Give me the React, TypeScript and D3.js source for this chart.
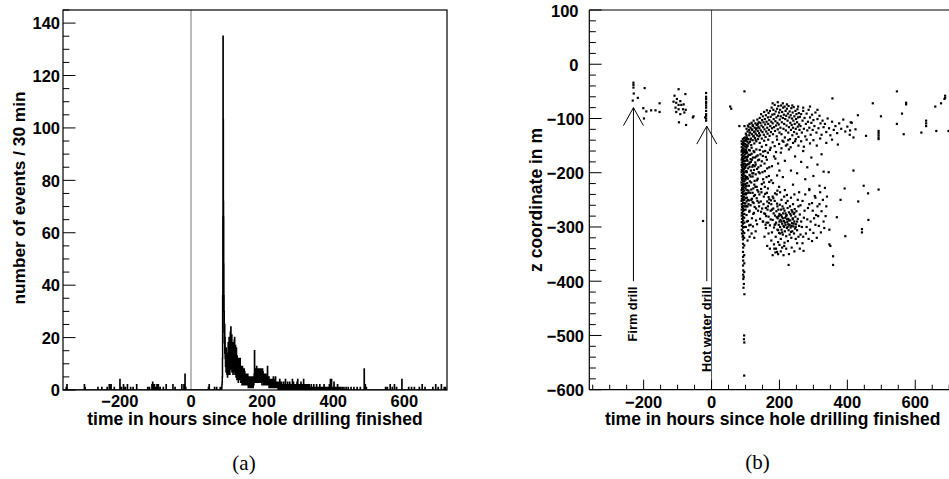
import React from "react";
import * as d3 from "d3";

// ---------- data ----------
const X_DOMAIN: [number, number] = [-360, 720];
const HIST_Y_MAX = 145;
const Z_DOMAIN: [number, number] = [-600, 100];
const BIN_WIDTH = 0.5;

const xTickValues = [-200, 0, 200, 400, 600];
const histYTicks = [0, 20, 40, 60, 80, 100, 120, 140];
const zTicks = [-600, -500, -400, -300, -200, -100, 0, 100];

// sparse bins before the main burst (hours, events per 30 min)
const preTimes = [-351, -349, -300, -298, -262, -251, -236, -230, -227, -225,
  -216, -200, -196, -190, -185, -179, -170, -163, -153, -122,
  -117, -110, -108, -105, -103, -99, -96, -92, -87, -78,
  -70, -51, -45, -26, -20, -17, -15, 49, 51, 66,
  72, 82, 84];
const preCounts = [1, 2, 2, 1, 1, 1, 1, 2, 1, 2,
  1, 4, 1, 2, 1, 2, 1, 1, 2, 1,
  1, 2, 3, 2, 2, 1, 2, 2, 1, 1,
  2, 2, 1, 2, 2, 6, 1, 1, 2, 1,
  1, 1, 1];

// dense burst: consecutive 30-min bins starting at t = 86 h
const denseStart = 86;
const denseCounts = [
  0, 1, 2, 3, 5, 12, 36, 66, 135, 103, 72, 66, 48, 36, 30, 22,
  18, 25, 14, 20, 12, 16, 9, 14, 11, 7, 16, 10, 8, 12, 6, 10,
  14, 5, 9, 12, 7, 18, 10, 6, 13, 9, 20, 11, 8, 15, 6, 19,
  12, 22, 9, 14, 24, 10, 17, 8, 13, 21, 7, 11, 16, 9, 12, 18,
  6, 14, 10, 8, 15, 7, 12, 19, 9, 20, 11, 6, 14, 8, 17, 10,
  12, 5, 9, 16, 7, 11, 4, 13, 9, 6, 12, 5, 10, 8, 3, 11,
  6, 9, 12, 4, 8, 5, 10, 7, 12, 4, 9, 6, 3, 8, 5, 9,
  7, 4, 8, 2, 5, 9, 3, 6, 8, 2, 5, 7, 4, 6, 3, 8,
  2, 5, 7, 3, 6, 3, 4, 6, 2, 5, 3, 4, 6, 2, 4, 3,
  5, 3, 2, 6, 3, 4, 1, 5, 2, 4, 3, 1, 4, 2, 5, 3,
  1, 3, 4, 2, 3, 5, 2, 1, 4, 2, 3, 5, 2, 3, 1, 4,
  3, 1, 4, 2, 5, 2, 3, 6, 4, 15, 5, 3, 7, 4, 8, 5,
  6, 8, 3, 7, 5, 9, 4, 6, 8, 3, 7, 5, 4, 8, 6, 3,
  7, 5, 8, 4, 3, 6, 5, 8, 6, 4, 7, 3, 5, 8, 4, 6,
  3, 7, 5, 2, 6, 4, 8, 5, 3, 7, 4, 6, 5, 2, 6, 4,
  3, 5, 2, 6, 4, 3, 5, 2, 6, 3, 4, 2, 3, 5, 2, 4,
  2, 4, 9, 3, 5, 2, 3, 4, 2, 3, 5, 1, 3, 2, 4, 3,
  1, 4, 2, 3, 3, 1, 2, 4, 2, 3, 1, 2, 4, 2, 3, 1,
  2, 3, 1, 5, 3, 2, 4, 1, 2, 1, 3, 2, 1, 3, 2, 5,
  2, 1, 3, 2, 1, 2, 3, 1, 2, 3, 1, 2, 1, 2, 0, 3,
  2, 1, 3, 1, 1, 2, 1, 4
];

// tail of the distribution
const tailTimes = [251, 252.5, 254, 255.5, 257, 258.5, 260, 261.5, 263, 264.5,
  265.5, 267, 268.5, 270, 271.5, 273, 274.5, 276, 277.5, 279,
  280.5, 282, 283.5, 285, 286.5, 288, 289.5, 291, 293, 294.5,
  296, 298, 300, 301.5, 303, 305, 307, 309, 311, 313,
  315, 316.5, 318, 320, 322, 324, 326, 328, 330, 332,
  334, 336, 338, 340, 343, 345, 348, 351, 353, 356,
  359, 362, 365, 368, 371, 374, 377, 380, 383, 386,
  389, 392, 395, 398, 402, 405, 408, 412, 416, 420,
  425, 430, 436, 442, 450, 458, 467, 476, 487, 490,
  493, 547, 552, 560, 566, 572, 578, 593, 612, 620,
  628, 642, 650, 658, 680, 688, 695, 704, 712, 716];
const tailCounts = [2, 1, 3, 1, 2, 1, 3, 1, 2, 1,
  4, 1, 2, 1, 3, 1, 2, 1, 3, 1,
  2, 1, 2, 4, 1, 3, 1, 2, 1, 2,
  1, 3, 4, 2, 1, 2, 1, 3, 1, 2,
  1, 4, 1, 2, 1, 2, 1, 2, 1, 2,
  1, 1, 2, 1, 1, 2, 1, 1, 2, 1,
  1, 2, 1, 1, 1, 2, 1, 1, 1, 1,
  2, 4, 4, 1, 3, 1, 1, 2, 1, 1,
  1, 1, 1, 1, 1, 1, 1, 1, 8, 2,
  1, 1, 1, 2, 1, 2, 1, 4, 1, 1,
  1, 1, 2, 1, 1, 2, 1, 2, 1, 1];

// scatter: [time in h, z in m]
const earlyPoints: [number, number][] = [
  [-230, -34], [-230, -38], [-230, -43], [-229, -54], [-217, -62], [-232, -67], [-197, -44],
  [-201, -81], [-192, -87], [-199, -100], [-178, -85], [-165, -85], [-153, -72], [-153, -88],
  [-97, -46], [-109, -58], [-102, -64], [-92, -68], [-104, -71], [-97, -75], [-89, -75],
  [-82, -74], [-77, -55], [-112, -69], [-106, -80], [-97, -83], [-84, -83], [-76, -84],
  [-104, -88], [-92, -92], [-80, -89], [-96, -107], [-75, -112], [-55, -98],
  [-16, -53], [-16, -60], [-16, -64], [-16, -69], [-16, -72], [-16, -76], [-16, -80],
  [-16, -86], [-16, -92], [-16, -95], [-16, -100], [-16, -104], [-19, -98], [-53, -96], [-25, -289],
  [55, -78], [58, -82], [82, -114], [97, -114], [97, -50]
];

const bandPoints: [number, number][] = [
  [88.6, -142], [89.3, -147], [88.9, -153], [89.7, -158], [88.4, -161], [89.1, -167], [89.8, -172], [88.7, -176],
  [89.4, -181], [88.5, -186], [89.9, -190], [89.0, -195], [88.6, -199], [89.5, -204], [88.8, -209], [89.6, -213],
  [88.3, -218], [89.2, -223], [89.9, -228], [88.7, -232], [89.4, -237], [88.9, -243], [89.6, -248], [88.5, -252],
  [89.2, -258], [89.8, -263], [88.8, -268], [89.4, -274], [88.9, -279], [89.7, -285], [89.1, -291], [89.5, -298],
  [89.0, -305], [89.6, -312],
  [92.1, -138], [92.8, -144], [92.4, -149], [93.1, -155], [92.6, -160], [92.2, -164], [93.0, -170], [92.5, -175],
  [92.9, -179], [92.3, -184], [93.2, -188], [92.7, -193], [92.1, -197], [92.8, -202], [93.1, -207], [92.4, -211],
  [92.9, -216], [92.2, -221], [93.0, -225], [92.6, -230], [92.3, -235], [92.9, -240], [93.2, -246], [92.5, -250],
  [92.7, -255], [92.1, -261], [93.0, -266], [92.6, -271], [92.3, -277], [92.8, -282], [93.1, -288], [92.5, -294],
  [92.9, -301], [92.4, -308], [93.0, -316], [92.6, -323], [92.8, -331], [93.2, -338], [92.7, -346], [92.9, -355],
  [93.3, -362], [92.8, -371], [93.4, -380], [93.0, -388], [93.5, -396],
  [95.7, -136], [96.3, -141], [95.9, -146], [96.6, -151], [96.1, -157], [95.6, -162], [96.4, -168], [96.8, -173],
  [95.8, -178], [96.2, -183], [96.7, -189], [96.0, -194], [95.6, -200], [96.5, -205], [96.1, -211], [96.9, -216],
  [95.8, -222], [96.3, -227], [96.7, -233], [96.0, -239], [95.7, -244], [96.4, -250], [96.8, -256], [96.1, -262],
  [95.9, -269], [96.5, -276], [96.2, -283], [96.6, -292], [96.0, -300], [96.4, -311], [96.1, -320], [96.5, -334],
  [96.2, -352], [96.6, -367], [96.3, -383],
  [99.3, -135], [99.8, -140], [99.5, -147], [100.1, -152], [99.4, -159], [99.9, -165], [99.6, -171], [100.2, -178],
  [99.7, -184], [99.3, -191], [100.0, -198], [99.5, -206], [99.8, -213], [99.4, -221], [100.1, -229], [99.6, -238],
  [99.9, -247], [99.5, -257], [100.2, -268],
  [103.0, -138], [103.4, -149], [102.8, -161], [103.6, -172], [103.1, -186], [102.7, -197], [103.5, -209], [103.2, -224],
  [102.9, -238], [103.3, -253],
  [96.8, -424], [96.0, -500], [95.4, -507], [96.6, -513], [96.2, -574], [91.5, -318], [94.8, -392], [95.2, -405], [94.1, -412]
];

const arcPoints: [number, number][] = [
  [101, -128], [102, -141], [103, -119], [104, -135], [105, -150], [106, -124], [107, -113], [108, -138], [109, -146], [110, -121],
  [111, -131], [112, -110], [113, -143], [114, -126], [115, -117], [116, -137], [117, -149], [118, -108], [119, -129], [120, -121],
  [121, -140], [122, -114], [123, -133], [124, -104], [125, -125], [126, -146], [127, -117], [128, -136], [129, -109], [130, -128],
  [131, -120], [132, -142], [133, -112], [134, -131], [135, -102], [136, -123], [137, -138], [138, -115], [139, -107], [140, -127],
  [103, -131], [106, -143], [109, -115], [112, -126], [115, -139], [118, -120], [121, -112], [124, -132], [127, -124], [130, -140],
  [133, -118], [136, -110], [139, -133],
  [141, -118], [142, -99], [143, -131], [144, -108], [145, -122], [146, -92], [147, -113], [148, -137], [149, -103], [150, -125],
  [151, -96], [152, -116], [153, -107], [154, -130], [155, -88], [156, -120], [157, -101], [158, -111], [159, -134], [160, -94],
  [161, -124], [162, -106], [163, -85], [164, -117], [165, -128], [166, -98], [167, -110], [168, -90], [169, -121], [170, -103],
  [171, -132], [172, -86], [173, -114], [174, -97], [175, -125], [176, -106], [177, -80], [178, -118], [179, -93], [180, -109],
  [181, -129], [182, -84], [183, -101], [184, -116], [185, -92], [186, -75], [187, -123], [188, -105], [189, -87], [190, -113],
  [191, -98], [192, -133], [193, -82], [194, -108], [195, -120], [196, -95], [197, -77], [198, -111], [199, -89], [200, -126],
  [201, -102], [202, -84], [203, -117], [204, -96], [205, -76], [206, -129], [207, -107], [208, -88], [209, -141], [210, -99],
  [211, -80], [212, -119], [213, -93], [214, -110], [215, -78], [216, -135], [217, -101], [218, -86], [219, -122], [220, -95],
  [221, -113], [222, -82], [223, -148], [224, -104], [225, -91], [226, -126], [227, -77], [228, -116], [229, -98], [230, -87],
  [231, -138], [232, -108], [233, -94], [234, -121], [235, -81], [236, -112], [237, -100], [238, -131], [239, -89], [240, -117],
  [241, -104], [242, -79], [243, -125], [244, -96], [245, -110], [246, -142], [247, -86], [248, -119], [249, -101], [250, -92],
  [251, -128], [252, -107], [253, -83], [254, -115], [255, -98], [256, -134], [257, -90], [258, -111], [259, -121], [260, -97],
  [262, -114], [264, -92], [266, -126], [268, -104], [270, -86], [272, -119], [274, -99], [276, -133], [278, -110], [280, -91],
  [282, -122], [284, -106], [286, -84], [288, -117], [290, -98], [292, -130], [294, -108], [296, -93], [298, -121], [300, -103],
  [303, -114], [306, -89], [309, -126], [312, -101], [315, -118], [318, -95], [321, -109], [324, -130], [327, -104], [330, -116],
  [334, -110], [338, -125], [342, -100], [346, -118], [350, -131], [355, -106], [360, -121], [365, -114], [370, -127], [376, -109],
  [382, -119], [388, -102], [394, -124], [400, -115], [407, -130], [413, -108], [418, -135], [424, -120],
  [356, -63], [410, -107], [408, -122],
  [142, -145], [148, -152], [155, -141], [161, -149], [167, -139], [174, -154], [180, -144], [186, -151], [193, -139], [199, -147],
  [206, -155], [212, -143], [219, -150], [226, -140], [233, -153], [240, -145], [248, -138], [256, -150], [264, -142], [272, -152],
  [280, -139], [290, -146], [300, -140], [310, -150], [320, -137], [338, -145], [355, -139], [372, -148],
  [180, -72], [195, -70], [210, -72], [222, -74], [238, -76], [255, -78], [270, -80], [290, -78], [312, -84]
];

const swathPoints: [number, number][] = [
  [101, -158], [102, -171], [103, -186], [104, -199], [105, -163], [106, -178], [107, -211], [108, -192], [109, -167], [110, -224],
  [111, -183], [112, -204], [113, -159], [114, -237], [115, -175], [116, -196], [117, -218], [118, -165], [119, -248], [120, -189],
  [121, -207], [122, -172], [123, -229], [124, -256], [125, -195], [126, -162], [127, -215], [128, -241], [129, -181], [130, -203],
  [131, -266], [132, -170], [133, -226], [134, -193], [135, -252], [136, -211], [137, -177], [138, -235], [139, -199], [140, -262],
  [102, -225], [104, -246], [106, -262], [108, -237], [110, -251], [112, -270], [105, -232], [103, -278], [107, -289], [101, -300],
  [111, -297], [100, -262], [100, -188], [101, -210], [103, -154], [105, -208], [107, -170], [109, -258], [113, -181], [115, -207],
  [117, -250], [119, -176], [121, -237], [123, -201], [125, -274], [127, -188],
  [142, -158], [145, -187], [148, -221], [151, -169], [154, -244], [157, -197], [160, -265], [163, -176], [166, -229], [169, -206],
  [172, -158], [175, -251], [178, -188], [181, -219], [184, -170], [187, -238], [190, -162], [193, -205], [196, -183], [199, -226],
  [146, -272], [152, -212], [158, -160], [164, -253], [170, -190], [176, -214], [182, -247], [188, -174], [194, -233], [200, -196],
  [204, -163], [210, -208], [216, -178], [222, -241], [228, -157], [234, -196], [240, -222], [246, -170], [252, -201], [258, -236],
  [264, -180], [270, -160], [276, -212], [282, -190], [288, -230], [294, -172], [300, -206], [306, -246], [312, -185], [318, -224],
  [324, -166], [330, -198],
  [102, -163], [104, -176], [106, -151], [108, -184], [110, -158], [112, -189], [114, -167], [116, -180], [118, -154], [120, -201],
  [122, -186], [124, -160], [126, -222], [128, -172], [130, -185], [132, -157], [134, -214], [136, -168], [138, -190], [140, -176],
  [142, -201], [144, -166], [146, -230], [148, -179], [150, -199], [152, -161], [154, -218], [156, -183], [158, -239], [160, -171],
  [162, -208], [164, -192], [166, -163], [168, -245], [170, -217],
  [101, -240], [103, -262], [105, -219], [107, -250], [109, -233], [111, -272], [113, -216], [115, -260], [117, -231], [119, -284],
  [121, -254], [123, -276], [125, -243], [127, -263], [129, -226], [131, -288], [133, -247], [135, -232], [137, -270], [139, -255],
  [141, -240], [143, -285], [145, -253], [147, -236], [149, -266], [151, -290], [153, -258], [155, -275], [157, -226], [159, -296],
  [161, -280], [163, -237], [165, -268], [167, -292], [169, -256],
  [104, -290], [108, -306], [112, -318], [106, -325], [115, -296], [118, -312], [122, -299], [126, -320], [130, -308], [134, -295]
];

const lowerCloudPoints: [number, number][] = [
  [166, -262], [168, -281], [170, -249], [172, -297], [174, -270], [176, -258], [178, -310], [180, -287], [182, -266], [184, -301],
  [186, -252], [187, -279], [189, -318], [190, -292], [191, -271], [193, -257], [194, -305], [195, -284], [196, -328], [197, -268],
  [198, -296], [199, -311], [200, -276], [201, -259], [202, -300], [203, -287], [204, -322], [205, -268], [206, -305], [207, -281],
  [208, -294], [209, -262], [210, -314], [211, -275], [212, -298], [213, -289], [214, -335], [215, -270], [216, -308], [217, -283],
  [218, -296], [219, -256], [220, -317], [221, -278], [222, -302], [223, -291], [224, -265], [225, -326], [226, -285], [227, -306],
  [228, -273], [229, -297], [230, -314], [231, -262], [232, -288], [233, -301], [234, -279], [235, -320], [236, -269], [237, -293],
  [238, -308], [239, -284], [240, -258], [241, -299], [242, -276], [243, -312], [244, -290], [245, -267], [246, -303], [247, -281],
  [248, -322], [249, -295], [250, -271], [252, -306], [254, -285], [256, -262], [258, -298], [260, -277], [262, -314], [264, -290],
  [183, -275], [188, -295], [192, -282], [196, -306], [200, -290], [204, -278], [208, -310], [212, -266], [216, -292], [220, -280],
  [224, -300], [228, -288], [232, -276], [236, -298], [240, -286], [244, -274], [248, -300], [252, -290], [206, -290], [214, -300],
  [222, -286], [230, -296], [238, -272], [218, -275], [226, -295], [234, -309], [210, -284], [198, -280], [242, -294], [202, -312],
  [268, -252], [272, -283], [276, -240], [280, -300], [284, -265], [288, -232], [292, -290], [296, -256], [300, -311], [304, -243],
  [308, -278], [312, -262], [316, -298], [320, -236], [324, -271], [328, -250], [332, -302], [336, -280], [340, -244], [270, -318],
  [286, -322], [302, -284], [318, -258], [334, -228],
  [188, -347], [185, -340], [193, -346], [200, -333], [208, -338], [215, -329], [227, -370], [271, -344],
  [152, -290], [156, -318], [160, -302], [164, -335], [168, -312], [172, -340], [176, -325], [180, -352], [184, -332], [190, -340],
  [196, -350], [204, -345], [212, -352], [220, -340], [228, -350], [236, -338], [244, -345], [252, -330], [260, -340], [268, -330],
  [158, -276], [162, -292], [174, -286], [178, -268], [186, -296], [194, -262], [206, -250], [214, -244], [224, -252], [234, -246],
  [244, -240], [254, -250], [262, -260], [274, -270], [282, -286], [290, -305], [298, -270], [306, -296], [314, -280], [322, -310],
  [330, -290], [338, -262], [256, -318], [266, -300], [278, -312], [288, -258], [296, -326], [310, -320], [180, -244], [192, -240],
  [202, -236], [216, -232]
];

const farPoints: [number, number][] = [
  [475, -72], [546, -50], [573, -71], [573, -74], [561, -91], [546, -110], [566, -129], [499, -96],
  [492, -123], [492, -127], [492, -131], [492, -135], [492, -138], [455, -132], [431, -94],
  [632, -104], [632, -109], [632, -114], [618, -126], [662, -123], [659, -78], [676, -72],
  [688, -58], [688, -62], [686, -64], [698, -123], [710, -60], [716, -55],
  [418, -196], [392, -229], [448, -224], [461, -238], [492, -231], [432, -253], [380, -250],
  [462, -287], [443, -304], [443, -310], [394, -317], [369, -282], [350, -335], [358, -354],
  [358, -370], [345, -199], [347, -305], [347, -332]
];

const drillArrows = [
  { label: "Firm drill", t: -230, zTip: -80, zEnd: -400 },
  { label: "Hot water drill", t: -14, zTip: -114, zEnd: -400 }
];

// ---------- component ----------
const SANS = "'Liberation Sans', Arial, Helvetica, sans-serif";
const SERIF = "'Liberation Serif', 'Times New Roman', serif";

export default function App() {
  const W = 949, H = 479;
  const LP = { left: 63, right: 447, top: 10, bottom: 390 };
  const RP = { left: 589.3, right: 956, top: 10, bottom: 389.7 };

  const xL = d3.scaleLinear().domain(X_DOMAIN).range([LP.left, LP.right]);
  const yL = d3.scaleLinear().domain([0, HIST_Y_MAX]).range([LP.bottom, LP.top]);
  const xR = d3.scaleLinear().domain(X_DOMAIN).range([RP.left, RP.right]);
  const yR = d3.scaleLinear().domain(Z_DOMAIN).range([RP.bottom, RP.top]);

  // build bins
  const nBins = Math.round((X_DOMAIN[1] - X_DOMAIN[0]) / BIN_WIDTH);
  const counts = new Array(nBins).fill(0);
  const idx = (t: number) => Math.round((t - X_DOMAIN[0]) / BIN_WIDTH);
  preTimes.forEach((t, i) => { counts[idx(t)] += preCounts[i]; });
  denseCounts.forEach((c, i) => { counts[idx(denseStart + i * BIN_WIDTH)] += c; });
  tailTimes.forEach((t, i) => { counts[idx(t)] += tailCounts[i]; });

  const histPts: [number, number][] = counts.map((c, i) => [X_DOMAIN[0] + i * BIN_WIDTH, c]);
  histPts.push([X_DOMAIN[1], 0]);
  const histPath = d3.line<[number, number]>()
    .x(d => xL(d[0]))
    .y(d => yL(d[1]))
    .curve(d3.curveStepAfter)(histPts) || "";

  const allPoints = [...earlyPoints, ...bandPoints, ...arcPoints, ...swathPoints, ...lowerCloudPoints, ...farPoints];

  const minorL = d3.range(0, HIST_Y_MAX + 0.01, 5);
  const minorRz = d3.range(-600, 100.01, 20);
  const minorRx = d3.range(-350, 720, 50);

  const fmt = (v: number) => (v < 0 ? "\u2212" + Math.abs(v) : String(v));

  return (
    <svg width={W} height={H} style={{ position: "absolute", left: 0, top: 0, background: "#fff" }}>
      <defs>
        <clipPath id="clipL"><rect x={LP.left} y={LP.top} width={LP.right - LP.left} height={LP.bottom - LP.top} /></clipPath>
        <clipPath id="clipR"><rect x={RP.left} y={RP.top} width={W - RP.left} height={RP.bottom - RP.top} /></clipPath>
      </defs>
      <rect x={0} y={0} width={W} height={H} fill="#fff" />

      {/* ---------- left panel ---------- */}
      <line x1={xL(0)} x2={xL(0)} y1={LP.top} y2={LP.bottom} stroke="#777" strokeWidth={1} />
      <path d={histPath} fill="none" stroke="#000" strokeWidth={1.5} clipPath="url(#clipL)" />
      <rect x={LP.left} y={LP.top} width={LP.right - LP.left} height={LP.bottom - LP.top} fill="none" stroke="#000" strokeWidth={1.2} />
      {minorL.map(v => {
        const major = v % 20 === 0;
        return <line key={"lt" + v} x1={LP.left} x2={LP.left + (major ? 12.5 : 6.3)} y1={yL(v)} y2={yL(v)} stroke="#000" strokeWidth={1} />;
      })}
      {histYTicks.map(v => (
        <text key={"ly" + v} x={60} y={yL(v) + 6.3} textAnchor="end" fontFamily={SANS} fontWeight="bold" fontSize={16.5} fill="#000">{fmt(v)}</text>
      ))}
      {xTickValues.map(v => (
        <text key={"lx" + v} x={xL(v)} y={407} textAnchor="middle" fontFamily={SANS} fontWeight="bold" fontSize={16.5} fill="#000">{fmt(v)}</text>
      ))}
      <text x={(LP.left + LP.right) / 2} y={425} textAnchor="middle" fontFamily={SANS} fontWeight="bold" fontSize={17.5} fill="#000">time in hours since hole drilling finished</text>
      <text transform={`translate(24.5,${(LP.top + LP.bottom) / 2 - 2}) rotate(-90)`} textAnchor="middle" fontFamily={SANS} fontWeight="bold" fontSize={17.3} fill="#000">number of events / 30 min</text>
      <text x={244} y={470} textAnchor="middle" fontFamily={SERIF} fontSize={21} fill="#000">(a)</text>

      {/* ---------- right panel ---------- */}
      <line x1={xR(0)} x2={xR(0)} y1={RP.top} y2={RP.bottom} stroke="#555" strokeWidth={1} />
      <g clipPath="url(#clipR)">
        {allPoints.map((p, i) => (
          <rect key={"p" + i} x={xR(p[0]) - 1.1} y={yR(p[1]) - 1.1} width={2.2} height={2.2} fill="#000" />
        ))}
      </g>
      {drillArrows.map(a => {
        const ax = xR(a.t), yTip = yR(a.zTip), yEnd = yR(a.zEnd);
        return (
          <g key={a.label}>
            <line x1={ax} x2={ax} y1={yTip} y2={yEnd} stroke="#000" strokeWidth={1} />
            <polyline points={`${ax - 10},${yTip + 18} ${ax},${yTip} ${ax + 10},${yTip + 18}`} fill="none" stroke="#000" strokeWidth={1} />
            <text transform={`translate(${ax + 4},${yEnd + 5.5}) rotate(-90)`} textAnchor="end" fontFamily={SANS} fontWeight="bold" fontSize={12.8} fill="#000">{a.label}</text>
          </g>
        );
      })}
      <line x1={RP.left} x2={W} y1={RP.top} y2={RP.top} stroke="#000" strokeWidth={1.2} />
      <line x1={RP.left} x2={RP.left} y1={RP.top} y2={RP.bottom} stroke="#000" strokeWidth={1.2} />
      <line x1={RP.left} x2={W} y1={RP.bottom} y2={RP.bottom} stroke="#000" strokeWidth={1.2} />
      {minorRz.map(v => {
        const major = v % 100 === 0;
        return <line key={"rt" + v} x1={RP.left} x2={RP.left + (major ? 12.3 : 6.5)} y1={yR(v)} y2={yR(v)} stroke="#000" strokeWidth={1} />;
      })}
      {minorRx.map(v => {
        const major = v % 200 === 0;
        return <line key={"rx" + v} x1={xR(v)} x2={xR(v)} y1={RP.bottom} y2={RP.bottom - (major ? 10 : 5)} stroke="#000" strokeWidth={1} />;
      })}
      {zTicks.map(v => (
        <text key={"rz" + v} x={v < 0 ? 584 : 578.5} y={yR(v) + 6.5} textAnchor="end" fontFamily={SANS} fontWeight="bold" fontSize={16.5} fill="#000">{fmt(v)}</text>
      ))}
      {xTickValues.map(v => (
        <text key={"rxl" + v} x={xR(v)} y={407.5} textAnchor="middle" fontFamily={SANS} fontWeight="bold" fontSize={16.5} fill="#000">{fmt(v)}</text>
      ))}
      <text x={(RP.left + RP.right) / 2} y={425} textAnchor="middle" fontFamily={SANS} fontWeight="bold" fontSize={17.5} fill="#000">time in hours since hole drilling finished</text>
      <text transform={`translate(541.5,200) rotate(-90)`} textAnchor="middle" fontFamily={SANS} fontWeight="bold" fontSize={17.5} fill="#000">z coordinate in m</text>
      <text x={757.5} y={469} textAnchor="middle" fontFamily={SERIF} fontSize={21} fill="#000">(b)</text>
    </svg>
  );
}
